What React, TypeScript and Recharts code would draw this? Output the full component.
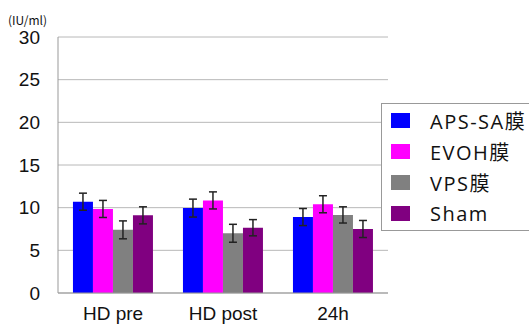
import { BarChart, Bar, XAxis, YAxis, CartesianGrid, ErrorBar, Legend } from 'recharts';

const categories = ['HD pre', 'HD post', '24h'];
const seriesNames = ['APS-SA膜', 'EVOH膜', 'VPS膜', 'Sham'];
const seriesColors = ['#0000ff', '#ff00ff', '#808080', '#800080'];

const apsValues = [10.7, 9.95, 8.9];
const apsErrors = [1.0, 1.05, 1.0];
const evohValues = [9.85, 10.85, 10.4];
const evohErrors = [1.0, 1.0, 1.0];
const vpsValues = [7.4, 7.0, 9.15];
const vpsErrors = [1.05, 1.05, 0.95];
const shamValues = [9.1, 7.65, 7.5];
const shamErrors = [1.0, 0.95, 1.0];

const yTicks = [0, 5, 10, 15, 20, 25, 30];
const unitLabel = '(IU/ml)';

const data = categories.map((name, i) => ({
    name,
    s0: apsValues[i], e0: apsErrors[i],
    s1: evohValues[i], e1: evohErrors[i],
    s2: vpsValues[i], e2: vpsErrors[i],
    s3: shamValues[i], e3: shamErrors[i],
}));

const tickFont = { fill: '#111', fontSize: 19, fontFamily: "'Liberation Sans', Arial, sans-serif" };

// legend drawn in series order (recharts 3 sorts by name otherwise)
const LegendBox = () => (
    <div style={{ border: '1px solid #999', background: '#fff', height: 125, paddingTop: 1, boxSizing: 'content-box' }}>
        {seriesNames.map((name, i) => (
            <div key={name} style={{ height: 31, display: 'flex', alignItems: 'center' }}>
                <span style={{ width: 19, height: 15, background: seriesColors[i], marginLeft: 9, marginRight: 20, display: 'inline-block' }} />
                <span style={{ fontSize: 20, letterSpacing: 1.5, color: '#111', fontFamily: "'Open Sans', 'Noto Sans CJK JP', sans-serif", whiteSpace: 'pre' }}>{name}</span>
            </div>
        ))}
    </div>
);

export default function App() {
    return (
        <div style={{ position: 'absolute', left: 0, top: 0, width: 529, height: 325, background: '#fff', overflow: 'hidden' }}>
            <div style={{ position: 'absolute', left: 8, top: 11, fontSize: 12, color: '#111', fontFamily: "'Noto Sans CJK JP', sans-serif" }}>{unitLabel}</div>
            <BarChart width={529} height={325} data={data} margin={{ top: 37, right: 141, bottom: 0, left: 0 }} barCategoryGap="13.6%" barGap={0}>
                <CartesianGrid vertical={false} stroke="#b8b8b8" strokeWidth={1} />
                <XAxis dataKey="name" height={32} tickLine={false} tickSize={0} tickMargin={14} axisLine={{ stroke: '#999' }} tick={tickFont} interval={0} />
                <YAxis width={58} domain={[0, 30]} ticks={yTicks} tickLine={false} tickSize={0} tickMargin={18} axisLine={{ stroke: '#999' }} tick={tickFont} />
                <Legend layout="vertical" align="center" verticalAlign="middle" wrapperStyle={{ left: 381, top: 103, width: 170 }} content={<LegendBox />} />
                {seriesNames.map((s, i) => (
                    <Bar key={s} dataKey={`s${i}`} name={s} fill={seriesColors[i]} isAnimationActive={false}>
                        <ErrorBar dataKey={`e${i}`} width={4} stroke="#222" strokeWidth={1.5} />
                    </Bar>
                ))}
            </BarChart>
        </div>
    );
}
